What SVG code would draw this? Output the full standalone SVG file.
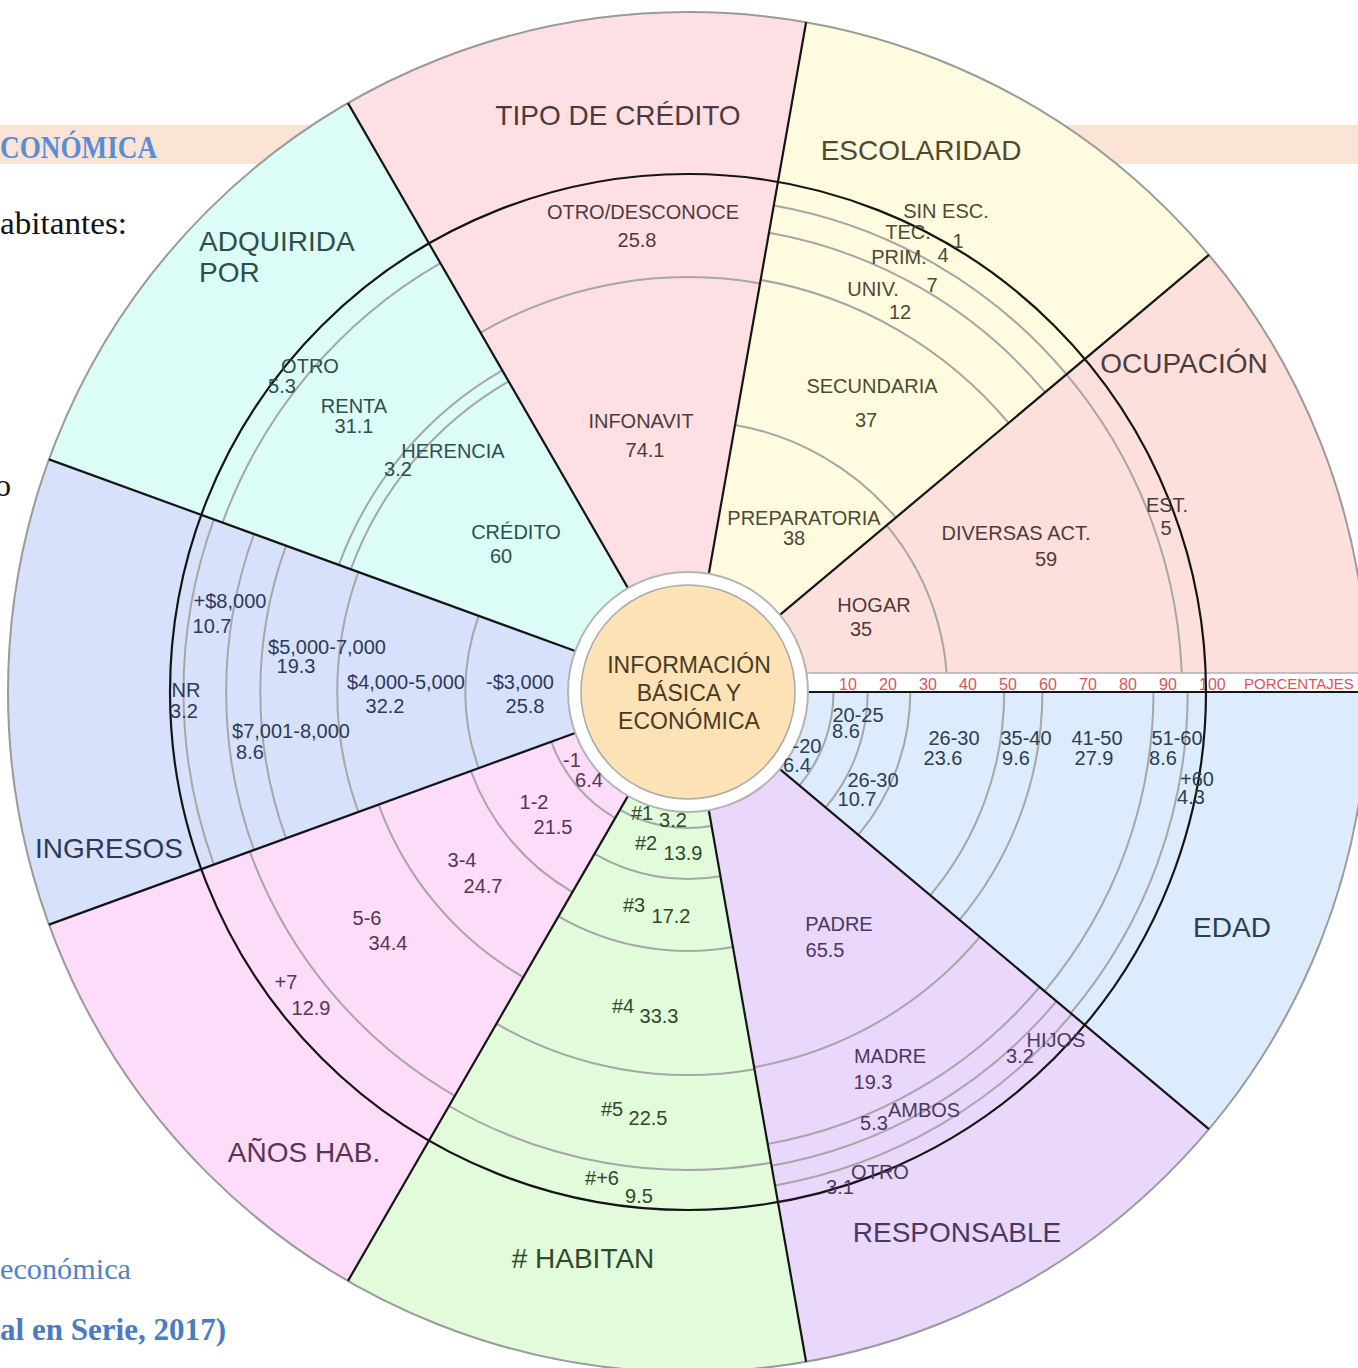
<svg xmlns="http://www.w3.org/2000/svg" width="1358" height="1368" viewBox="0 0 1358 1368">
<style>
.bgt{font-family:"Liberation Serif","Times New Roman",serif}
.t{font-family:"Liberation Sans",Arial,sans-serif;font-size:20px;text-anchor:middle}
.ttl{font-family:"Liberation Sans",Arial,sans-serif;font-size:28px;text-anchor:middle}
.ctr{font-family:"Liberation Sans",Arial,sans-serif;font-size:23px;text-anchor:middle;fill:#4a3a24}
.arc{fill:none;stroke:#a6a6a6;stroke-width:2}
.bl{fill:none;stroke:#151515;stroke-width:2.2}
.pct{font-family:"Liberation Sans",Arial,sans-serif;font-size:16px;fill:#e4505c}
.c1{fill:#4d3b3d}.c2{fill:#4e4a33}.c3{fill:#4d3a3d}.c4{fill:#2f4f4a}.c5{fill:#2b3a5a}
.c6{fill:#5a3456}.c7{fill:#2e4a2a}.c8{fill:#4a3763}.c9{fill:#2d3e50}
</style>
<rect x="0" y="0" width="1358" height="1368" fill="#ffffff"/>
<g id="document-background">
<rect x="0" y="125" width="1358" height="39" fill="#fbe4d5"/>
<text class="bgt" x="0" y="158" font-size="32" font-weight="bold" fill="#5b8dd3" textLength="157" lengthAdjust="spacingAndGlyphs">CONÓMICA</text>
<text class="bgt" x="0" y="234" font-size="32" fill="#111111" textLength="127" lengthAdjust="spacingAndGlyphs">abitantes:</text>
<text class="bgt" x="-5" y="496" font-size="32" fill="#111111">o</text>
<text class="bgt" x="0" y="1279" font-size="30" fill="#5083c6" textLength="131" lengthAdjust="spacingAndGlyphs">económica</text>
<text class="bgt" x="0" y="1340" font-size="32" font-weight="bold" fill="#4a7dbf" textLength="226" lengthAdjust="spacingAndGlyphs">al en Serie, 2017)</text>
</g>
<g id="sector-ocupacion">
<path d="M688 692 L1368 692 A680 680 0 0 0 1208.9 254.9 Z" fill="#fde0dc"/>
<path class="arc" d="M947.3 692 A259.3 259.3 0 0 0 886.6 525.3"/>
<path class="arc" d="M1182.1 692 A494.1 494.1 0 0 0 1066.5 374.4"/>
</g>
<g id="sector-escolaridad">
<path d="M688 692 L1208.9 254.9 A680 680 0 0 0 806.1 22.3 Z" fill="#fefbde"/>
<path class="arc" d="M895.8 517.7 A271.2 271.2 0 0 0 735.1 424.9"/>
<path class="arc" d="M1008.6 423 A418.5 418.5 0 0 0 760.7 279.9"/>
<path class="arc" d="M1045.2 392.3 A466.3 466.3 0 0 0 769 232.8"/>
<path class="arc" d="M1066.5 374.4 A494.1 494.1 0 0 0 773.8 205.4"/>
</g>
<g id="sector-tipo-credito">
<path d="M688 692 L806.1 22.3 A680 680 0 0 0 348 103.1 Z" fill="#fee0e4"/>
<path class="arc" d="M760 283.4 A414.9 414.9 0 0 0 480.5 332.7"/>
</g>
<g id="sector-adquirida">
<path d="M688 692 L348 103.1 A680 680 0 0 0 49 459.4 Z" fill="#dcfdf7"/>
<path class="arc" d="M508.6 381.3 A358.8 358.8 0 0 0 350.8 569.3"/>
<path class="arc" d="M502.2 370.3 A371.5 371.5 0 0 0 338.9 564.9"/>
<path class="arc" d="M440.3 263.1 A495.3 495.3 0 0 0 222.6 522.6"/>
</g>
<g id="sector-ingresos">
<path d="M688 692 L49 459.4 A680 680 0 0 0 49 924.6 Z" fill="#d8e1fc"/>
<path class="arc" d="M478.7 615.8 A222.7 222.7 0 0 0 478.7 768.2"/>
<path class="arc" d="M358.4 572 A350.8 350.8 0 0 0 358.4 812"/>
<path class="arc" d="M286.1 545.7 A427.7 427.7 0 0 0 286.1 838.3"/>
<path class="arc" d="M254 534 A461.9 461.9 0 0 0 254 850"/>
<path class="arc" d="M213.9 519.5 A504.5 504.5 0 0 0 213.9 864.5"/>
</g>
<g id="sector-anos-hab">
<path d="M688 692 L49 924.6 A680 680 0 0 0 348 1280.9 Z" fill="#fcdcf8"/>
<path class="arc" d="M551.3 741.8 A145.5 145.5 0 0 0 615.2 818"/>
<path class="arc" d="M470.9 771 A231 231 0 0 0 572.5 892.1"/>
<path class="arc" d="M378.6 804.6 A329.3 329.3 0 0 0 523.3 977.2"/>
<path class="arc" d="M249.8 851.5 A466.3 466.3 0 0 0 454.8 1095.8"/>
</g>
<g id="sector-habitan">
<path d="M688 692 L348 1280.9 A680 680 0 0 0 806.1 1361.7 Z" fill="#e2fcdb"/>
<path class="arc" d="M620 809.8 A136 136 0 0 0 711.6 825.9"/>
<path class="arc" d="M594.5 853.9 A187 187 0 0 0 720.5 876.2"/>
<path class="arc" d="M558.5 916.3 A259 259 0 0 0 733 947.1"/>
<path class="arc" d="M496.5 1023.7 A383 383 0 0 0 754.5 1069.2"/>
<path class="arc" d="M449 1106 A478 478 0 0 0 771 1162.7"/>
</g>
<g id="sector-responsable">
<path d="M688 692 L806.1 1361.7 A680 680 0 0 0 1208.9 1129.1 Z" fill="#ead7fc"/>
<path class="arc" d="M754.2 1067.2 A381 381 0 0 0 979.9 936.9"/>
<path class="arc" d="M767.7 1144 A459 459 0 0 0 1039.6 987"/>
<path class="arc" d="M771.5 1165.7 A481 481 0 0 0 1056.5 1001.2"/>
<path class="arc" d="M775 1185.4 A501 501 0 0 0 1071.8 1014"/>
</g>
<g id="sector-edad">
<path d="M688 692 L1208.9 1129.1 A680 680 0 0 0 1368 692 Z" fill="#dcecfc"/>
<path class="arc" d="M799.5 785.5 A145.5 145.5 0 0 0 833.5 692"/>
<path class="arc" d="M825.7 807.5 A179.7 179.7 0 0 0 867.7 692"/>
<path class="arc" d="M858.3 834.9 A222.3 222.3 0 0 0 910.3 692"/>
<path class="arc" d="M930.2 895.3 A316.2 316.2 0 0 0 1004.2 692"/>
<path class="arc" d="M959.5 919.8 A354.4 354.4 0 0 0 1042.4 692"/>
<path class="arc" d="M1044.6 991.2 A465.5 465.5 0 0 0 1153.5 692"/>
<path class="arc" d="M1070.8 1013.2 A499.7 499.7 0 0 0 1187.7 692"/>
</g>
<g id="percent-scale">
<rect x="807" y="673" width="551" height="19" fill="#ffffff"/>
<line x1="807" y1="673" x2="1358" y2="673" stroke="#b0b0b0" stroke-width="1.5"/>
<text class="pct" x="839" y="690">10</text>
<text class="pct" x="879" y="690">20</text>
<text class="pct" x="919" y="690">30</text>
<text class="pct" x="959" y="690">40</text>
<text class="pct" x="999" y="690">50</text>
<text class="pct" x="1039" y="690">60</text>
<text class="pct" x="1079" y="690">70</text>
<text class="pct" x="1119" y="690">80</text>
<text class="pct" x="1159" y="690">90</text>
<text class="pct" x="1199" y="690">100</text>
<text class="pct" x="1244" y="689" style="font-size:15px">PORCENTAJES</text>
</g>
<g id="connectors">
<circle cx="688" cy="692" r="680" fill="none" stroke="#9a9a9a" stroke-width="2"/>
<circle class="bl" cx="688" cy="692" r="518"/>
<line class="bl" x1="808" y1="692" x2="1358" y2="692"/>
<line class="bl" x1="779.9" y1="614.9" x2="1208.9" y2="254.9"/>
<line class="bl" x1="708.8" y1="573.8" x2="806.1" y2="22.3"/>
<line class="bl" x1="628" y1="588.1" x2="348" y2="103.1"/>
<line class="bl" x1="575.2" y1="651" x2="49" y2="459.4"/>
<line class="bl" x1="575.2" y1="733" x2="49" y2="924.6"/>
<line class="bl" x1="628" y1="795.9" x2="348" y2="1280.9"/>
<line class="bl" x1="708.8" y1="810.2" x2="806.1" y2="1361.7"/>
<line class="bl" x1="779.9" y1="769.1" x2="1208.9" y2="1129.1"/>
</g>
<g id="center-node">
<circle cx="688" cy="692" r="120" fill="#ffffff" stroke="#b4b4b4" stroke-width="2"/>
<circle cx="688" cy="692" r="107" fill="#fde2b6" stroke="#a9a9a9" stroke-width="1.5"/>
<text class="ctr" x="689" y="673">INFORMACIÓN</text>
<text class="ctr" x="689" y="701">BÁSICA Y</text>
<text class="ctr" x="689" y="729">ECONÓMICA</text>
</g>
<g id="labels-ocupacion" class="c1">
<text class="ttl" x="1184" y="373">OCUPACIÓN</text>
<text class="t" x="874" y="612">HOGAR</text>
<text class="t" x="861" y="636">35</text>
<text class="t" x="1016" y="540">DIVERSAS ACT.</text>
<text class="t" x="1046" y="566">59</text>
<text class="t" x="1167" y="512">EST.</text>
<text class="t" x="1166" y="535">5</text>
</g>
<g id="labels-escolaridad" class="c2">
<text class="ttl" x="921" y="160">ESCOLARIDAD</text>
<text class="t" x="946" y="218">SIN ESC.</text>
<text class="t" x="908" y="239">TEC.</text>
<text class="t" x="958" y="248">1</text>
<text class="t" x="899" y="264">PRIM.</text>
<text class="t" x="943" y="262">4</text>
<text class="t" x="873" y="296">UNIV.</text>
<text class="t" x="932" y="292">7</text>
<text class="t" x="900" y="319">12</text>
<text class="t" x="872" y="393">SECUNDARIA</text>
<text class="t" x="866" y="427">37</text>
<text class="t" x="804" y="525">PREPARATORIA</text>
<text class="t" x="794" y="545">38</text>
</g>
<g id="labels-tipo-credito" class="c3">
<text class="ttl" x="618" y="125">TIPO DE CRÉDITO</text>
<text class="t" x="643" y="219">OTRO/DESCONOCE</text>
<text class="t" x="637" y="247">25.8</text>
<text class="t" x="641" y="428">INFONAVIT</text>
<text class="t" x="645" y="457">74.1</text>
</g>
<g id="labels-adquirida" class="c4">
<text class="ttl" x="199" y="251" style="text-anchor:start">ADQUIRIDA</text>
<text class="ttl" x="199" y="282" style="text-anchor:start">POR</text>
<text class="t" x="310" y="373">OTRO</text>
<text class="t" x="282" y="393">5.3</text>
<text class="t" x="354" y="413">RENTA</text>
<text class="t" x="354" y="433">31.1</text>
<text class="t" x="453" y="458">HERENCIA</text>
<text class="t" x="398" y="476">3.2</text>
<text class="t" x="516" y="539">CRÉDITO</text>
<text class="t" x="501" y="563">60</text>
</g>
<g id="labels-ingresos" class="c5">
<text class="ttl" x="109" y="858">INGRESOS</text>
<text class="t" x="230" y="608">+$8,000</text>
<text class="t" x="212" y="633">10.7</text>
<text class="t" x="327" y="654">$5,000-7,000</text>
<text class="t" x="296" y="673">19.3</text>
<text class="t" x="406" y="689">$4,000-5,000</text>
<text class="t" x="385" y="713">32.2</text>
<text class="t" x="520" y="689">-$3,000</text>
<text class="t" x="525" y="713">25.8</text>
<text class="t" x="186" y="697">NR</text>
<text class="t" x="184" y="718">3.2</text>
<text class="t" x="291" y="738">$7,001-8,000</text>
<text class="t" x="250" y="759">8.6</text>
</g>
<g id="labels-anos-hab" class="c6">
<text class="ttl" x="304" y="1162">AÑOS HAB.</text>
<text class="t" x="572" y="767">-1</text>
<text class="t" x="589" y="787">6.4</text>
<text class="t" x="534" y="809">1-2</text>
<text class="t" x="553" y="834">21.5</text>
<text class="t" x="462" y="867">3-4</text>
<text class="t" x="483" y="893">24.7</text>
<text class="t" x="367" y="925">5-6</text>
<text class="t" x="388" y="950">34.4</text>
<text class="t" x="286" y="989">+7</text>
<text class="t" x="311" y="1015">12.9</text>
</g>
<g id="labels-habitan" class="c7">
<text class="ttl" x="583" y="1268"># HABITAN</text>
<text class="t" x="642" y="820">#1</text>
<text class="t" x="673" y="827">3.2</text>
<text class="t" x="646" y="850">#2</text>
<text class="t" x="683" y="860">13.9</text>
<text class="t" x="634" y="912">#3</text>
<text class="t" x="671" y="923">17.2</text>
<text class="t" x="623" y="1013">#4</text>
<text class="t" x="659" y="1023">33.3</text>
<text class="t" x="612" y="1116">#5</text>
<text class="t" x="648" y="1125">22.5</text>
<text class="t" x="602" y="1185">#+6</text>
<text class="t" x="639" y="1203">9.5</text>
</g>
<g id="labels-responsable" class="c8">
<text class="ttl" x="957" y="1242">RESPONSABLE</text>
<text class="t" x="839" y="931">PADRE</text>
<text class="t" x="825" y="957">65.5</text>
<text class="t" x="890" y="1063">MADRE</text>
<text class="t" x="873" y="1089">19.3</text>
<text class="t" x="924" y="1117">AMBOS</text>
<text class="t" x="874" y="1130">5.3</text>
<text class="t" x="1056" y="1047">HIJOS</text>
<text class="t" x="1020" y="1063">3.2</text>
<text class="t" x="880" y="1179">OTRO</text>
<text class="t" x="840" y="1194">3.1</text>
</g>
<g id="labels-edad" class="c9">
<text class="ttl" x="1232" y="937">EDAD</text>
<text class="t" x="858" y="722">20-25</text>
<text class="t" x="846" y="738">8.6</text>
<text class="t" x="807" y="753">-20</text>
<text class="t" x="797" y="772">6.4</text>
<text class="t" x="873" y="787">26-30</text>
<text class="t" x="857" y="806">10.7</text>
<text class="t" x="954" y="745">26-30</text>
<text class="t" x="943" y="765">23.6</text>
<text class="t" x="1026" y="745">35-40</text>
<text class="t" x="1016" y="765">9.6</text>
<text class="t" x="1097" y="745">41-50</text>
<text class="t" x="1094" y="765">27.9</text>
<text class="t" x="1177" y="745">51-60</text>
<text class="t" x="1163" y="765">8.6</text>
<text class="t" x="1197" y="786">+60</text>
<text class="t" x="1191" y="804">4.3</text>
</g>
</svg>
